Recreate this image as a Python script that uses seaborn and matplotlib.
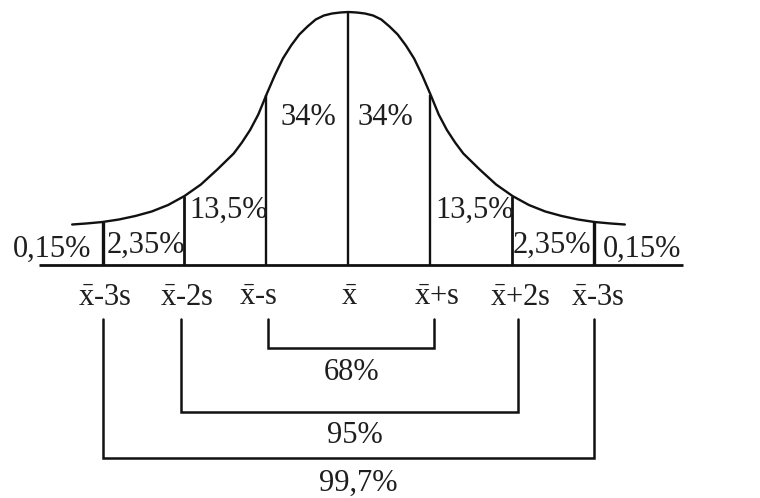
import numpy as np
import matplotlib
matplotlib.use("Agg")
import matplotlib.pyplot as plt
import seaborn as sns

# ---- data ----
# bell curve: offset from the mean (in units of s) and height above the baseline
curve_z = [-3.37, -3.2, -3.0, -2.8, -2.6, -2.4, -2.2, -2.0, -1.8, -1.6, -1.4, -1.3, -1.2,
           -1.1, -1.0, -0.9, -0.8, -0.7, -0.6, -0.5, -0.4, -0.3, -0.2, -0.1, 0.0,
           0.1, 0.2, 0.3, 0.4, 0.5, 0.6, 0.7, 0.8, 0.9, 1.0, 1.1, 1.2, 1.3,
           1.4, 1.6, 1.8, 2.0, 2.2, 2.4, 2.6, 2.8, 3.0, 3.2, 3.37]
curve_h = [40, 41, 42.5, 45, 48.5, 53, 59.5, 68.5, 80, 95, 111, 122, 134.5,
           150, 170, 189, 206, 219, 230, 238, 245, 249, 251, 252, 252.5,
           252, 251, 249, 245, 238, 230, 219, 206, 189, 170, 150, 134.5, 122,
           111, 95, 80, 68.5, 59.5, 53, 48.5, 45, 42.5, 41, 40]

# dividing lines at the mean +- k*s
divider_z = [-3, -2, -1, 0, 1, 2, 3]
divider_lw = [2.4, 2.0, 1.7, 1.7, 1.7, 2.0, 2.4]

# percentages of each band
band_labels = ["0,15%", "2,35%", "13,5%", "34%", "34%", "13,5%", "2,35%", "0,15%"]

# axis labels under the baseline (as printed)
tick_labels = [r"$\bar{\mathrm{x}}$-3s", r"$\bar{\mathrm{x}}$-2s", r"$\bar{\mathrm{x}}$-s",
               r"$\bar{\mathrm{x}}$", r"$\bar{\mathrm{x}}$+s", r"$\bar{\mathrm{x}}$+2s",
               r"$\bar{\mathrm{x}}$-3s"]

# brackets: label, left end, right end (units of s)
bracket_labels = ["68%", "95%", "99,7%"]
bracket_left = [-0.98, -2.04, -2.995]
bracket_right = [1.04, 2.07, 2.997]

# ---- layout helpers (pixel geometry of the 760x498 picture) ----
MEAN_PX, S_PX, BASE_PX = 348.5, 82.0, 264.5
def ux(px):
    return (px - MEAN_PX) / S_PX
def vy(py):
    return BASE_PX - py

sns.set_theme(style="white")
plt.rcParams["font.family"] = ["Liberation Serif", "DejaVu Serif"]
plt.rcParams["mathtext.fontset"] = "custom"
plt.rcParams["mathtext.rm"] = "Liberation Serif"
plt.rcParams["mathtext.it"] = "Liberation Serif:italic"
plt.rcParams["mathtext.bf"] = "Liberation Serif:bold"

INK = "#111111"
TXT = "#1e1e1e"
FS = 22

fig = plt.figure(figsize=(7.6, 4.98), dpi=100)
ax = fig.add_axes([0, 0, 1, 1])
ax.set_xlim(ux(0), ux(760))
ax.set_ylim(vy(498), vy(0))
ax.axis("off")

# curve
sns.lineplot(x=curve_z, y=curve_h, ax=ax, color=INK, linewidth=1.7,
             sort=False, estimator=None)

# baseline
ax.hlines(0, ux(39), ux(683), color=INK, linewidth=2.0)

# dividers up to the curve
div_h = np.interp(divider_z, curve_z, curve_h)
for z, h, lw in zip(divider_z, div_h, divider_lw):
    ax.vlines(z, 0, h, color=INK, linewidth=lw)

# band percentages (left edge px, baseline px)
band_pos = [(13, 256.7), (106.7, 253), (189, 218), (281, 125),
            (358, 125), (435, 218), (513, 253), (603, 256.7)]
for lab, (px, py) in zip(band_labels, band_pos):
    ax.text(ux(px), vy(py), lab, fontsize=FS, color=TXT, ha="left", va="baseline")

# tick labels
tick_px = [105, 187, 258, 349, 437, 520, 598]
for lab, px in zip(tick_labels, tick_px):
    ax.text(ux(px), vy(305), lab, fontsize=FS, color=TXT, ha="center", va="baseline")

# brackets
bracket_bottom_py = [348.3, 412.3, 457.7]
bracket_text_py = [380, 443.3, 490.5]
bracket_text_px = [352, 355, 358]
top_v = vy(319.3)
for lab, l, r, bpy, tpy, tpx in zip(bracket_labels, bracket_left, bracket_right,
                                    bracket_bottom_py, bracket_text_py, bracket_text_px):
    b = vy(bpy)
    ax.plot([l, l, r, r], [top_v, b, b, top_v], color=INK, linewidth=1.8,
            solid_joinstyle="miter")
    ax.text(ux(tpx), vy(tpy), lab, fontsize=FS, color=TXT, ha="center", va="baseline")

fig.savefig("out.png", dpi=100, facecolor="white")
